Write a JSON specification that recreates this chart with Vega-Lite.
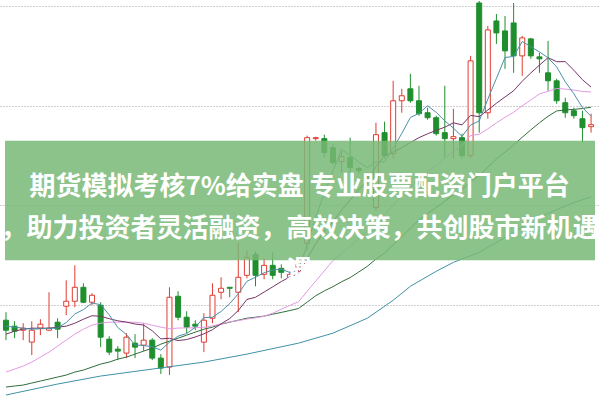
{
  "$schema": "https://vega.github.io/schema/vega-lite/v6.json",
  "width": 600,
  "height": 401,
  "autosize": {"type": "fit", "contains": "padding"},
  "padding": 0,
  "background": "white",
  "config": {
    "view": {"stroke": null},
    "axis": {"labels": false, "ticks": false, "domain": false, "minExtent": 0, "maxExtent": 0, "offset": 0, "titlePadding": 0, "labelPadding": 0}
  },
  "datasets": {
    "banner": [{"name": "banner", "top": 11.65, "bottom": 10.45, "left": -0.114, "right": 68.457}],
    "caption": [{"name": "caption", "cx": 34.12, "cy": 11.19}]
  },
  "data": {"values": [
    {"i":0,"o":9.85,"h":9.93,"l":9.65,"c":9.75,"ma5":9.79,"ma10":9.71,"ma20":9.33,"ma30":9.18,"ma60":9.10},
    {"i":1,"o":9.79,"h":9.84,"l":9.67,"c":9.74,"ma5":9.78,"ma10":9.74,"ma20":9.36,"ma30":9.19,"ma60":null},
    {"i":2,"o":9.75,"h":9.82,"l":9.65,"c":9.77,"ma5":9.77,"ma10":9.76,"ma20":9.39,"ma30":9.20,"ma60":null},
    {"i":3,"o":9.63,"h":9.84,"l":9.50,"c":9.75,"ma5":9.76,"ma10":9.77,"ma20":9.43,"ma30":9.22,"ma60":null},
    {"i":4,"o":9.77,"h":9.86,"l":9.70,"c":9.81,"ma5":9.764,"ma10":9.77,"ma20":9.48,"ma30":9.24,"ma60":null},
    {"i":5,"o":9.75,"h":10.13,"l":9.74,"c":9.77,"ma5":9.768,"ma10":9.77,"ma20":9.53,"ma30":9.26,"ma60":null},
    {"i":6,"o":9.83,"h":9.87,"l":9.67,"c":9.76,"ma5":9.772,"ma10":9.78,"ma20":9.59,"ma30":9.28,"ma60":9.21},
    {"i":7,"o":9.99,"h":10.25,"l":9.90,"c":10.04,"ma5":9.826,"ma10":9.79,"ma20":9.65,"ma30":9.30,"ma60":null},
    {"i":8,"o":10.04,"h":10.40,"l":9.98,"c":10.18,"ma5":9.912,"ma10":9.82,"ma20":9.71,"ma30":9.33,"ma60":null},
    {"i":9,"o":10.18,"h":10.22,"l":10.02,"c":10.03,"ma5":9.956,"ma10":9.86,"ma20":9.76,"ma30":9.35,"ma60":null},
    {"i":10,"o":10.03,"h":10.12,"l":10.00,"c":10.10,"ma5":10.022,"ma10":9.895,"ma20":9.80,"ma30":9.38,"ma60":null},
    {"i":11,"o":10.00,"h":10.03,"l":9.58,"c":9.68,"ma5":10.006,"ma10":9.889,"ma20":9.82,"ma30":9.41,"ma60":9.29},
    {"i":12,"o":9.66,"h":9.69,"l":9.50,"c":9.53,"ma5":9.904,"ma10":9.865,"ma20":9.83,"ma30":9.43,"ma60":null},
    {"i":13,"o":9.56,"h":9.59,"l":9.45,"c":9.54,"ma5":9.776,"ma10":9.844,"ma20":9.83,"ma30":9.46,"ma60":null},
    {"i":14,"o":9.52,"h":9.72,"l":9.47,"c":9.68,"ma5":9.706,"ma10":9.831,"ma20":9.83,"ma30":9.48,"ma60":null},
    {"i":15,"o":9.62,"h":9.71,"l":9.47,"c":9.58,"ma5":9.602,"ma10":9.812,"ma20":9.83,"ma30":9.51,"ma60":null},
    {"i":16,"o":9.60,"h":9.82,"l":9.54,"c":9.65,"ma5":9.596,"ma10":9.801,"ma20":9.82,"ma30":9.54,"ma60":null},
    {"i":17,"o":9.65,"h":9.67,"l":9.45,"c":9.47,"ma5":9.584,"ma10":9.744,"ma20":9.80,"ma30":9.57,"ma60":9.36},
    {"i":18,"o":9.47,"h":9.51,"l":9.31,"c":9.37,"ma5":9.55,"ma10":9.663,"ma20":9.78,"ma30":9.61,"ma60":null},
    {"i":19,"o":9.38,"h":10.18,"l":9.30,"c":10.08,"ma5":9.63,"ma10":9.668,"ma20":9.764,"ma30":9.64,"ma60":null},
    {"i":20,"o":10.09,"h":10.14,"l":9.85,"c":9.88,"ma5":9.69,"ma10":9.646,"ma20":9.771,"ma30":9.67,"ma60":null},
    {"i":21,"o":9.88,"h":9.94,"l":9.72,"c":9.78,"ma5":9.716,"ma10":9.656,"ma20":9.773,"ma30":9.70,"ma60":null},
    {"i":22,"o":9.81,"h":9.85,"l":9.75,"c":9.79,"ma5":9.78,"ma10":9.682,"ma20":9.774,"ma30":9.73,"ma60":null},
    {"i":23,"o":9.63,"h":9.92,"l":9.53,"c":9.85,"ma5":9.876,"ma10":9.713,"ma20":9.779,"ma30":9.76,"ma60":9.43},
    {"i":24,"o":9.87,"h":10.22,"l":9.82,"c":10.10,"ma5":9.88,"ma10":9.755,"ma20":9.793,"ma30":9.78,"ma60":null},
    {"i":25,"o":10.13,"h":10.28,"l":10.06,"c":10.17,"ma5":9.938,"ma10":9.814,"ma20":9.813,"ma30":9.81,"ma60":null},
    {"i":26,"o":10.18,"h":10.18,"l":10.08,"c":10.17,"ma5":10.016,"ma10":9.866,"ma20":9.834,"ma30":9.83,"ma60":null},
    {"i":27,"o":10.13,"h":10.63,"l":9.93,"c":10.28,"ma5":10.114,"ma10":9.947,"ma20":9.846,"ma30":9.85,"ma60":null},
    {"i":28,"o":10.30,"h":10.55,"l":10.27,"c":10.48,"ma5":10.24,"ma10":10.058,"ma20":9.861,"ma30":9.87,"ma60":9.51},
    {"i":29,"o":10.51,"h":10.54,"l":10.19,"c":10.30,"ma5":10.28,"ma10":10.08,"ma20":9.874,"ma30":9.88,"ma60":null},
    {"i":30,"o":10.31,"h":10.47,"l":10.26,"c":10.40,"ma5":10.326,"ma10":10.132,"ma20":9.889,"ma30":9.891,"ma60":null},
    {"i":31,"o":10.40,"h":10.53,"l":10.26,"c":10.30,"ma5":10.352,"ma10":10.184,"ma20":9.92,"ma30":9.91,"ma60":null},
    {"i":32,"o":10.37,"h":10.41,"l":10.27,"c":10.33,"ma5":10.362,"ma10":10.238,"ma20":9.96,"ma30":9.928,"ma60":null},
    {"i":33,"o":10.28,"h":10.34,"l":10.26,"c":10.31,"ma5":10.328,"ma10":10.284,"ma20":9.999,"ma30":9.947,"ma60":null},
    {"i":34,"o":10.37,"h":10.45,"l":10.33,"c":10.41,"ma5":10.35,"ma10":10.315,"ma20":10.035,"ma30":9.967,"ma60":9.62},
    {"i":35,"o":10.62,"h":11.70,"l":10.55,"c":11.68,"ma5":10.606,"ma10":10.466,"ma20":10.14,"ma30":10.031,"ma60":null},
    {"i":36,"o":11.67,"h":11.69,"l":11.65,"c":11.68,"ma5":10.882,"ma10":10.617,"ma20":10.242,"ma30":10.095,"ma60":null},
    {"i":37,"o":11.67,"h":11.71,"l":11.48,"c":11.53,"ma5":11.122,"ma10":10.742,"ma20":10.345,"ma30":10.144,"ma60":null},
    {"i":38,"o":11.58,"h":11.62,"l":11.41,"c":11.43,"ma5":11.346,"ma10":10.837,"ma20":10.448,"ma30":10.186,"ma60":9.72},
    {"i":39,"o":11.44,"h":11.55,"l":11.33,"c":11.49,"ma5":11.562,"ma10":10.956,"ma20":10.518,"ma30":10.235,"ma60":null},
    {"i":40,"o":11.48,"h":11.68,"l":11.33,"c":11.38,"ma5":11.502,"ma10":11.054,"ma20":10.593,"ma30":10.277,"ma60":null},
    {"i":41,"o":11.37,"h":11.39,"l":11.32,"c":11.35,"ma5":11.436,"ma10":11.159,"ma20":10.672,"ma30":10.333,"ma60":null},
    {"i":42,"o":11.29,"h":11.31,"l":11.22,"c":11.25,"ma5":11.38,"ma10":11.251,"ma20":10.745,"ma30":10.39,"ma60":9.87},
    {"i":43,"o":10.98,"h":11.83,"l":10.95,"c":11.71,"ma5":11.436,"ma10":11.391,"ma20":10.838,"ma30":10.463,"ma60":null},
    {"i":44,"o":11.73,"h":11.84,"l":11.47,"c":11.50,"ma5":11.438,"ma10":11.50,"ma20":10.908,"ma30":10.523,"ma60":null},
    {"i":45,"o":11.52,"h":12.25,"l":11.47,"c":12.05,"ma5":11.572,"ma10":11.537,"ma20":11.002,"ma30":10.606,"ma60":10.05},
    {"i":46,"o":12.05,"h":12.17,"l":11.93,"c":12.10,"ma5":11.722,"ma10":11.579,"ma20":11.098,"ma30":10.687,"ma60":null},
    {"i":47,"o":12.17,"h":12.32,"l":12.03,"c":12.05,"ma5":11.882,"ma10":11.631,"ma20":11.187,"ma30":10.773,"ma60":10.19},
    {"i":48,"o":12.05,"h":12.20,"l":11.90,"c":11.92,"ma5":11.924,"ma10":11.68,"ma20":11.259,"ma30":10.858,"ma60":null},
    {"i":49,"o":11.93,"h":11.98,"l":11.86,"c":11.88,"ma5":12.0,"ma10":11.719,"ma20":11.338,"ma30":10.918,"ma60":null},
    {"i":50,"o":11.88,"h":11.90,"l":11.70,"c":11.72,"ma5":11.934,"ma10":11.753,"ma20":11.404,"ma30":10.98,"ma60":10.34},
    {"i":51,"o":11.73,"h":12.20,"l":11.48,"c":11.67,"ma5":11.848,"ma10":11.785,"ma20":11.472,"ma30":11.043,"ma60":null},
    {"i":52,"o":11.67,"h":11.97,"l":11.47,"c":11.69,"ma5":11.776,"ma10":11.829,"ma20":11.54,"ma30":11.106,"ma60":10.43},
    {"i":53,"o":11.68,"h":11.72,"l":11.47,"c":11.50,"ma5":11.692,"ma10":11.808,"ma20":11.60,"ma30":11.161,"ma60":null},
    {"i":54,"o":11.50,"h":12.50,"l":11.48,"c":12.45,"ma5":11.806,"ma10":11.903,"ma20":11.702,"ma30":11.239,"ma60":null},
    {"i":55,"o":13.03,"h":13.05,"l":11.73,"c":11.93,"ma5":11.848,"ma10":11.891,"ma20":11.714,"ma30":11.298,"ma60":10.53},
    {"i":56,"o":11.93,"h":12.80,"l":11.87,"c":12.76,"ma5":12.066,"ma10":11.957,"ma20":11.768,"ma30":11.384,"ma60":null},
    {"i":57,"o":12.85,"h":12.92,"l":12.62,"c":12.73,"ma5":12.274,"ma10":12.025,"ma20":11.828,"ma30":11.466,"ma60":null},
    {"i":58,"o":12.75,"h":12.90,"l":12.37,"c":12.55,"ma5":12.484,"ma10":12.088,"ma20":11.884,"ma30":11.535,"ma60":null},
    {"i":59,"o":12.83,"h":13.03,"l":12.33,"c":12.50,"ma5":12.494,"ma10":12.15,"ma20":11.935,"ma30":11.608,"ma60":10.73},
    {"i":60,"o":12.50,"h":12.70,"l":12.30,"c":12.68,"ma5":12.644,"ma10":12.246,"ma20":12.0,"ma30":11.684,"ma60":10.788},
    {"i":61,"o":12.67,"h":12.68,"l":12.47,"c":12.50,"ma5":12.592,"ma10":12.329,"ma20":12.057,"ma30":11.758,"ma60":10.834},
    {"i":62,"o":12.49,"h":12.53,"l":12.33,"c":12.47,"ma5":12.54,"ma10":12.407,"ma20":12.118,"ma30":11.829,"ma60":10.879},
    {"i":63,"o":12.33,"h":12.65,"l":12.15,"c":12.25,"ma5":12.48,"ma10":12.482,"ma20":12.145,"ma30":11.894,"ma60":10.92},
    {"i":64,"o":12.25,"h":12.27,"l":12.02,"c":12.05,"ma5":12.39,"ma10":12.442,"ma20":12.173,"ma30":11.948,"ma60":10.958},
    {"i":65,"o":12.03,"h":12.08,"l":11.88,"c":11.93,"ma5":12.24,"ma10":12.442,"ma20":12.167,"ma30":11.957,"ma60":10.994},
    {"i":66,"o":11.95,"h":11.98,"l":11.87,"c":11.90,"ma5":12.12,"ma10":12.356,"ma20":12.157,"ma30":11.964,"ma60":11.029},
    {"i":67,"o":11.87,"h":11.95,"l":11.63,"c":11.78,"ma5":11.982,"ma10":12.261,"ma20":12.143,"ma30":11.972,"ma60":11.058},
    {"i":68,"o":11.79,"h":11.92,"l":11.73,"c":11.81,"ma5":11.894,"ma10":12.187,"ma20":12.138,"ma30":11.985,"ma60":11.085}
  ]},
  "layer": [
    {
      "mark": {"type": "rule", "strokeWidth": 1},
      "encoding": {
        "x": {"field": "i", "type": "quantitative", "scale": {"domain": [-0.114, 68.457], "nice": false, "zero": false}, "axis": null},
        "y": {"field": "l", "type": "quantitative", "scale": {"domain": [9.04, 13.05], "nice": false, "zero": false}, "axis": {"values": [10, 11, 12, 13], "title": null, "grid": true, "gridDash": [1, 2], "gridColor": "#a0a0a0", "gridWidth": 1}},
        "y2": {"field": "h"},
        "color": {"condition": {"test": "datum.c >= datum.o", "value": "#e03c31"}, "value": "#1f8f2d"}
      }
    },
    {
      "mark": {"type": "bar", "size": 5, "strokeWidth": 1},
      "encoding": {
        "x": {"field": "i", "type": "quantitative"},
        "y": {"field": "o", "type": "quantitative"},
        "y2": {"field": "c"},
        "fill": {"condition": {"test": "datum.c >= datum.o", "value": "white"}, "value": "#1f8f2d"},
        "stroke": {"condition": {"test": "datum.c >= datum.o", "value": "#e03c31"}, "value": "#1f8f2d"}
      }
    },
    {
      "mark": {"type": "line", "strokeWidth": 1, "color": "#2f6e3c"},
      "encoding": {"x": {"field": "i", "type": "quantitative"}, "y": {"field": "ma30", "type": "quantitative"}}
    },
    {
      "transform": [{"filter": "isValid(datum.ma60)"}],
      "mark": {"type": "line", "strokeWidth": 1, "color": "#3f92a8"},
      "encoding": {"x": {"field": "i", "type": "quantitative"}, "y": {"field": "ma60", "type": "quantitative"}}
    },
    {
      "mark": {"type": "line", "strokeWidth": 1, "color": "#e49ae4"},
      "encoding": {"x": {"field": "i", "type": "quantitative"}, "y": {"field": "ma20", "type": "quantitative"}}
    },
    {
      "mark": {"type": "line", "strokeWidth": 1, "color": "#763565"},
      "encoding": {"x": {"field": "i", "type": "quantitative"}, "y": {"field": "ma10", "type": "quantitative"}}
    },
    {
      "mark": {"type": "line", "strokeWidth": 1, "color": "#4a90ab"},
      "encoding": {"x": {"field": "i", "type": "quantitative"}, "y": {"field": "ma5", "type": "quantitative"}}
    },
    {
      "data": {"name": "banner"},
      "mark": {"type": "rect", "fill": "#78b876", "opacity": 0.85},
      "encoding": {
        "x": {"field": "left", "type": "quantitative"},
        "x2": {"field": "right"},
        "y": {"field": "top", "type": "quantitative"},
        "y2": {"field": "bottom"}
      }
    },
    {
      "data": {"name": "caption"},
      "mark": {"type": "text", "text": ["期货模拟考核7%给实盘 专业股票配资门户平台", "，助力投资者灵活融资，高效决策，共创股市新机遇", "遇"], "lineHeight": 42, "font": "Noto Sans CJK SC", "fontSize": 26, "fontWeight": "bold", "color": "white", "align": "center", "baseline": "middle"},
      "encoding": {
        "x": {"field": "cx", "type": "quantitative"},
        "y": {"field": "cy", "type": "quantitative"}
      }
    }
  ]
}
